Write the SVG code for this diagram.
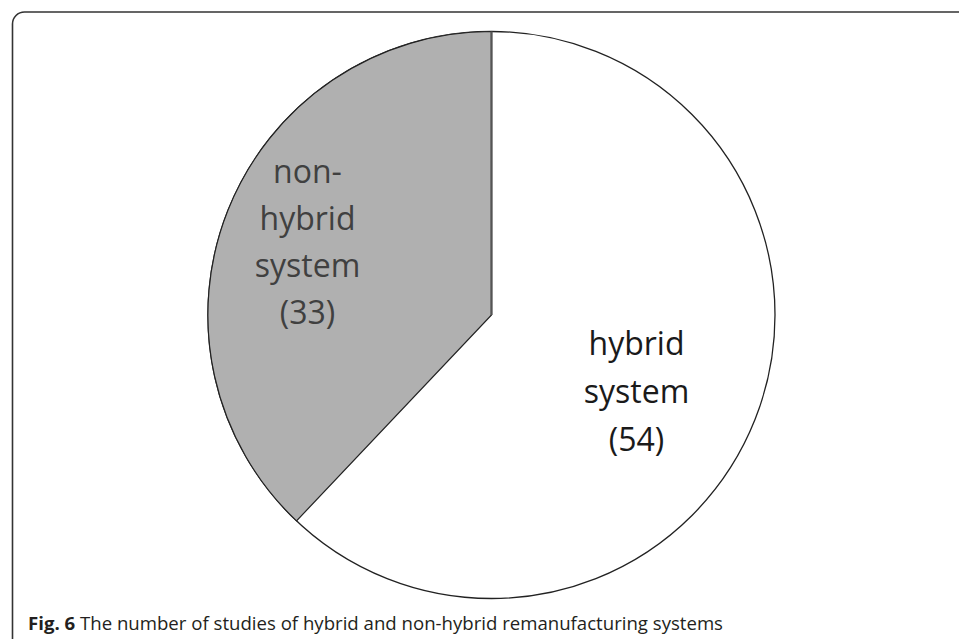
<svg xmlns="http://www.w3.org/2000/svg" width="959" height="639" viewBox="0 0 959 639">
<style>
.lbl{font-family:"Open Sans","Liberation Sans",sans-serif;font-size:32px;text-anchor:middle}
.cap{font-family:"Open Sans","Liberation Sans",sans-serif;font-size:18.5px;fill:#231f20}
</style>
<rect x="0" y="0" width="959" height="639" fill="#fff"/>
<path d="M12.5,639 V24 A12,12 0 0 1 24.5,12 H959" fill="none" stroke="#333" stroke-width="1.6"/>
<g id="pie">
<circle cx="491.5" cy="315" r="283.5" fill="#fff" stroke="#222" stroke-width="1.3"/>
<g id="non-hybrid">
<path d="M491.5,315 L491.5,31.5 A283.5,283.5 0 0 0 296.5,520.9 Z" fill="#b0b0b0" stroke="#222" stroke-width="1.2"/>
<line x1="491.5" y1="31.5" x2="491.5" y2="315" stroke="#555" stroke-width="2.2"/>
<text class="lbl" fill="#404040"><tspan x="307.5" y="182.5">non-</tspan><tspan x="307.5" y="229.5">hybrid</tspan><tspan x="307.5" y="276.5">system</tspan><tspan x="307.5" y="323.5">(33)</tspan></text>
</g>
<g id="hybrid">
<text class="lbl" fill="#1a1a1a"><tspan x="636.5" y="355">hybrid</tspan><tspan x="636.5" y="403">system</tspan><tspan x="636.5" y="451">(54)</tspan></text>
</g>
</g>
<text class="cap" x="28" y="629.5" textLength="695" lengthAdjust="spacingAndGlyphs"><tspan font-weight="bold">Fig. 6</tspan> The number of studies of hybrid and non-hybrid remanufacturing systems</text>
</svg>
